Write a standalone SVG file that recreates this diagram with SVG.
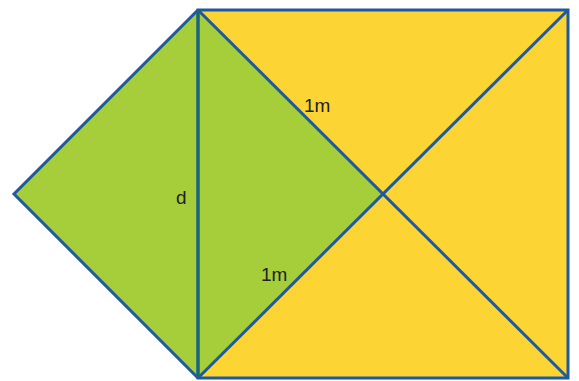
<svg xmlns="http://www.w3.org/2000/svg" width="579" height="381" viewBox="0 0 579 381">
<style>
.ln{stroke:#1e5aa0;stroke-width:3;fill:none;stroke-linejoin:miter}
.lbl{font-family:"Liberation Sans",Arial,sans-serif;font-size:19px;fill:#222}
</style>
<rect width="579" height="381" fill="#ffffff"/>
<g id="yellow-rect">
<rect x="198" y="10" width="370" height="368" fill="#fcd535"/>
</g>
<g id="green-square">
<polygon points="198,10 383,194 198,378 14,194" fill="#a6cd3a"/>
</g>
<g id="connectors">
<rect class="ln" x="198" y="10" width="370" height="368"/>
<line class="ln" x1="198" y1="10" x2="568" y2="378"/>
<line class="ln" x1="568" y1="10" x2="198" y2="378"/>
<polyline class="ln" points="198,10 14,194 198,378"/>
<line x1="198" y1="10" x2="198" y2="378" stroke="#1b6678" stroke-width="3"/>
</g>
<g id="labels">
<text class="lbl" x="304" y="112">1m</text>
<text class="lbl" x="176" y="204">d</text>
<text class="lbl" x="261" y="281">1m</text>
</g>
</svg>
